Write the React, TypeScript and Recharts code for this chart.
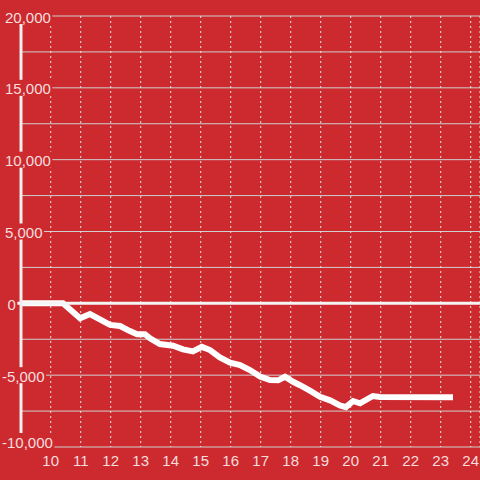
import React from 'react';
import { LineChart, Line, XAxis, YAxis, CartesianGrid, ReferenceLine } from 'recharts';

// hours of the day and running total
const hours = [
  9.01, 10.41, 10.98, 11.31, 11.98, 12.31, 12.64, 12.88, 13.14, 13.31, 13.64, 14.08,
  14.41, 14.74, 15.04, 15.31, 15.64, 15.98, 16.31, 16.64, 16.98, 17.31, 17.58, 17.81,
  18.08, 18.31, 18.64, 18.98, 19.31, 19.64, 19.84, 20.08, 20.31, 20.74, 20.98, 23.41,
];
const totals = [
  0, 0, -1040, -750, -1500, -1580, -1930, -2150, -2150, -2440, -2830, -2950,
  -3200, -3350, -3030, -3250, -3760, -4130, -4290, -4640, -5100, -5340, -5360, -5110,
  -5460, -5700, -6080, -6500, -6750, -7100, -7220, -6800, -6960, -6450, -6520, -6540,
];
const xTicks = [10, 11, 12, 13, 14, 15, 16, 17, 18, 19, 20, 21, 22, 23, 24];
const yTicks = [-10000, -7500, -5000, -2500, 0, 2500, 5000, 7500, 10000, 12500, 15000, 17500, 20000];

const data = hours.map((h, i) => ({ hour: h, total: totals[i] }));

const RED = '#cd2a2f';
const FONT = '"Liberation Sans", Arial, sans-serif';
const FONT_SIZE = 15;

// rough Arial advance widths, used to size the label background
const textWidth = (s: string) =>
  s.split('').reduce((w, c) => w + (c === ',' ? 0.278 : c === '-' ? 0.333 : 0.556), 0) * FONT_SIZE;

const YTick = (props: any) => {
  const { y, payload } = props;
  const v = payload.value as number;
  if (v % 5000 !== 0) return null;
  const label = v.toLocaleString('en-US');
  const tx = v < 0 ? 2 : v === 0 ? 7.5 : 5;
  // the bottom label sits above its line
  const cy = v === yTicks[0] ? y - 6 : y;
  return (
    <g>
      <rect x={0} y={cy - 8} width={tx + textWidth(label) + 1.5} height={16} fill={RED} />
      <text x={tx} y={cy} dy={6.5} textAnchor="start" fill="#fff" fillOpacity={0.85}
        fontSize={FONT_SIZE} fontFamily={FONT}>
        {label}
      </text>
    </g>
  );
};

const XTick = (props: any) => {
  const { x, payload } = props;
  return (
    <text x={x} y={466} textAnchor="middle" fill="#fff" fillOpacity={0.85}
      fontSize={FONT_SIZE} fontFamily={FONT}>
      {payload.value}
    </text>
  );
};

export default function App() {
  return (
    <div style={{ position: 'absolute', left: 0, top: 0, width: 480, height: 480, background: RED }}>
      <LineChart width={480} height={480} data={data} margin={{ top: 16, right: 0, bottom: 0, left: 0 }}>
        <CartesianGrid vertical={false} stroke="#cfcfcf" strokeWidth={1} />
        <CartesianGrid horizontal={false} stroke="#e6e6e6" strokeWidth={1} strokeDasharray="2 3" />
        <Line
          type="linear"
          dataKey="total"
          stroke="#ffffff"
          strokeWidth={6}
          dot={false}
          activeDot={false}
          isAnimationActive={false}
        />
        <ReferenceLine
          segment={[{ x: 8.877, y: 0 }, { x: 24.31, y: 0 }]}
          stroke="#f4f4f4"
          strokeWidth={3}
          ifOverflow="visible"
        />
        <XAxis
          dataKey="hour"
          type="number"
          domain={[9.01, 24.31]}
          allowDataOverflow
          ticks={xTicks}
          interval={0}
          height={33}
          axisLine={false}
          tickLine={false}
          tick={<XTick />}
        />
        <YAxis
          type="number"
          domain={[-10000, 20000]}
          ticks={yTicks}
          interval={0}
          width={21}
          axisLine={{ stroke: '#eeeeee', strokeWidth: 3 }}
          tickLine={false}
          tick={<YTick />}
        />
      </LineChart>
    </div>
  );
}
